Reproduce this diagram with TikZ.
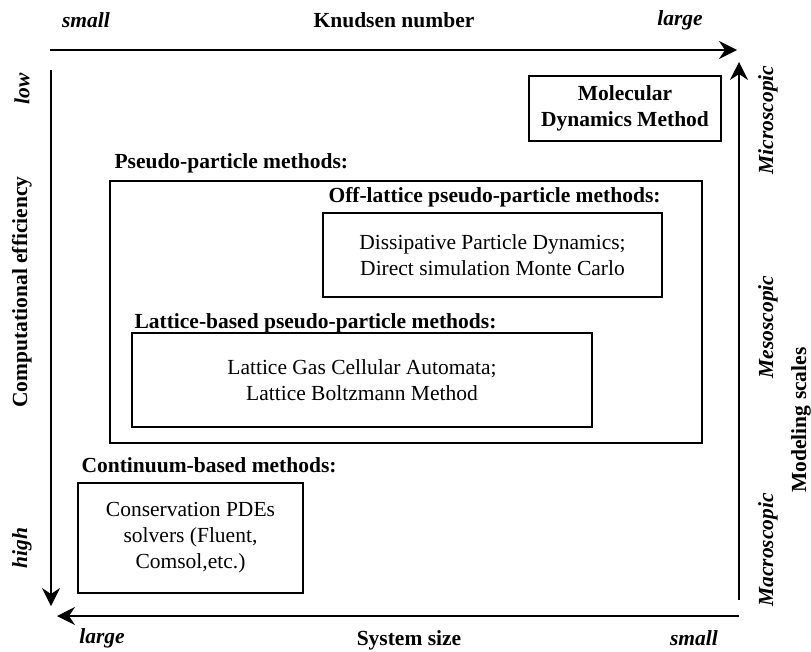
\documentclass[tikz,border=0pt]{standalone}
\usepackage{fontspec}
\setmainfont{Liberation Serif}
\usetikzlibrary{arrows.meta,positioning}

\begin{document}
\begin{tikzpicture}[x=1pt,y=-1pt,
	every node/.style={font=\fontsize{21.5}{26}\selectfont},
	axis/.style={line width=1.4pt,-{Stealth[length=18pt,width=18pt,inset=6pt]}},
	box/.style={draw,line width=1.7pt,align=center,inner sep=0pt},
	title/.style={anchor=west,font=\fontsize{21.5}{26}\selectfont\bfseries},
	tag/.style={font=\fontsize{21.5}{26}\selectfont\bfseries\itshape},
	axlabel/.style={font=\fontsize{21.5}{26}\selectfont\bfseries}]
	\useasboundingbox (0,0) rectangle (811,651);
	%AXES
	\coordinate (K0) at (50,50);
	\coordinate (K1) at (737,50);
	\coordinate (C0) at (51,70);
	\coordinate (C1) at (51,606);
	\coordinate (S0) at (739,616);
	\coordinate (S1) at (57,616);
	\coordinate (M0) at (739,600);
	\coordinate (M1) at (739,62);
	\draw[axis] (K0) -- (K1);
	\draw[axis] (C0) -- (C1);
	\draw[axis] (S0) -- (S1);
	\draw[axis] (M0) -- (M1);
	%KNUDSEN NUMBER
	\node[tag] (kn-small) at (86,20) {small};
	\node[axlabel] (kn) at (394,20) {Knudsen number};
	\node[tag] (kn-large) at (680,20) {large};
	%SYSTEM SIZE
	\node[tag] (sys-large) at (102,638) {large};
	\node[axlabel] (sys) at (409,640) {System size};
	\node[tag] (sys-small) at (694,638) {small};
	%COMPUTATIONAL EFFICIENCY
	\node[tag,rotate=90] (eff-low) at (22,89) {low};
	\node[axlabel,rotate=90] (eff) at (22,292) {Computational efficiency};
	\node[tag,rotate=90] (eff-high) at (22,548) {high};
	%MODELING SCALES
	\node[tag,rotate=90] (micro) at (768,120) {Microscopic};
	\node[tag,rotate=90] (meso) at (768,327) {Mesoscopic};
	\node[tag,rotate=90] (macro) at (768,550) {Macroscopic};
	\node[axlabel,rotate=90] (scales) at (801,420) {Modeling scales};

	%MOLECULAR DYNAMICS
	\node[box,font=\fontsize{21.5}{26}\selectfont\bfseries,minimum width=192,minimum height=65] (md) at (625,108.5) {Molecular\\Dynamics Method};
	%PSEUDO-PARTICLE
	\node[title] (pp-title) at (111,163) {Pseudo-particle methods:};
	\node[box,minimum width=592,minimum height=262] (pp) at (406,312) {};
	%OFF-LATTICE
	\node[title] (off-title) at (325,197) {Off-lattice pseudo-particle methods:};
	\node[box,minimum width=339,minimum height=84] (off) at (492.5,255) {Dissipative Particle Dynamics;\\Direct simulation Monte Carlo};
	%LATTICE-BASED
	\node[title] (lat-title) at (131,323) {Lattice-based pseudo-particle methods:};
	\node[box,minimum width=460,minimum height=94] (lat) at (362,380) {Lattice Gas Cellular Automata;\\Lattice Boltzmann Method};
	%CONTINUUM
	\node[title] (cont-title) at (78,465) {Continuum-based methods:};
	\node[box,minimum width=225,minimum height=110] (cont) at (190.5,538) {Conservation PDEs\\solvers (Fluent,\\Comsol,etc.)};
\end{tikzpicture}
\end{document}
